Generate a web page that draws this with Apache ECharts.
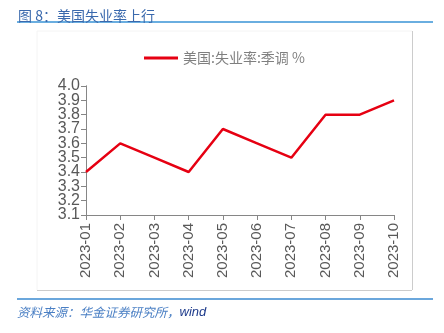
<!DOCTYPE html>
<html><head><meta charset="utf-8">
<script src="https://cdn.jsdelivr.net/npm/echarts@6/dist/echarts.min.js"></script>
<style>html,body{margin:0;padding:0;background:#fff}#c{width:444px;height:333px}</style>
</head><body><div id="c"></div>
<script>
const categories = ['2023-01','2023-02','2023-03','2023-04','2023-05','2023-06','2023-07','2023-08','2023-09','2023-10'];
const unemploymentRate = [3.4, 3.6, 3.5, 3.4, 3.7, 3.6, 3.5, 3.8, 3.8, 3.9];
const yMin = 3.1, yMax = 4.0, yStep = 0.1;
const seriesName = '美国:失业率:季调 %';
const titleText = '图 8：美国失业率上行';
const sourceCn = '资料来源：华金证券研究所，';
const sourceEn = 'wind';

const gridBox = {left:86, right:50, top:86, bottom:118, containLabel:false};
const labelStyle = {color:'#595959', margin:6, fontFamily:'Arial, "Liberation Sans"', fontSize:16,
  formatter:v=>v.toFixed(1)};
const axisLineStyle = {show:true, lineStyle:{color:'#868686', width:1}};
const tickStyle = {show:true, length:5, lineStyle:{color:'#868686'}};

const chart = echarts.init(document.getElementById('c'), null, {renderer:'canvas'});
chart.setOption({
  animation:false,
  backgroundColor:'#fff',
  title:{
    text:titleText, left:13, top:4,
    textStyle:{fontFamily:'"Noto Sans CJK SC", sans-serif', fontSize:14, fontWeight:'normal', color:'#3a69ad'}
  },
  legend:{
    data:[seriesName], top:46, left:139, itemWidth:34, itemHeight:3, itemGap:4,
    icon:'rect',
    textStyle:{fontFamily:'"Noto Sans CJK SC", sans-serif', fontSize:14, color:'#7f7f7f'}
  },
  grid:[Object.assign({}, gridBox), Object.assign({}, gridBox)],
  xAxis:[{
    type:'category', data:categories, boundaryGap:false, gridIndex:0,
    axisLine:{lineStyle:{color:'#868686', width:1}},
    axisTick:{alignWithLabel:true, length:5, lineStyle:{color:'#868686'}},
    axisLabel:{rotate:90, color:'#595959', fontFamily:'Arial, "Liberation Sans"', fontSize:15, margin:8}
  },{
    type:'category', data:categories, boundaryGap:false, gridIndex:1, show:false
  }],
  yAxis:[{
    type:'value', gridIndex:0, min:yMin, max:yMax, interval:yStep,
    axisLine:axisLineStyle, axisTick:tickStyle, splitLine:{show:false},
    axisLabel:Object.assign({showMinLabel:false, showMaxLabel:false}, labelStyle)
  },{
    type:'value', gridIndex:1, min:yMin, max:yMax, interval:+(yMax-yMin).toFixed(1),
    axisLine:axisLineStyle, axisTick:tickStyle, splitLine:{show:false},
    axisLabel:Object.assign({showMinLabel:true, showMaxLabel:true}, labelStyle)
  }],
  series:[{
    name:seriesName, type:'line', data:unemploymentRate, symbol:'none',
    xAxisIndex:0, yAxisIndex:0,
    lineStyle:{color:'#e60012', width:2.5}, itemStyle:{color:'#e60012'}
  }],
  graphic:[
    {type:'line', shape:{x1:17,y1:22,x2:433,y2:22}, style:{stroke:'#6aaee0', lineWidth:2}},
    {type:'line', shape:{x1:37,y1:31,x2:412,y2:31}, style:{stroke:'#f4f4f4', lineWidth:1}},
    {type:'line', shape:{x1:37,y1:31,x2:37,y2:290}, style:{stroke:'#f4f4f4', lineWidth:1}},
    {type:'line', shape:{x1:412.5,y1:31,x2:412.5,y2:290}, style:{stroke:'#cccccc', lineWidth:1}},
    {type:'line', shape:{x1:37,y1:290.5,x2:412,y2:290.5}, style:{stroke:'#cccccc', lineWidth:1}},
    {type:'line', shape:{x1:17,y1:299,x2:433,y2:299}, style:{stroke:'#3a8ad0', lineWidth:1.5}},
    {type:'text', left:17, top:306, style:{
      text:'{a|'+sourceCn+'}{b|'+sourceEn+'}',
      rich:{
        a:{fontFamily:'"Noto Sans CJK SC", sans-serif', fontSize:12.5, fontStyle:'italic', fill:'#4a7fc4'},
        b:{fontFamily:'Arial, "Liberation Sans"', fontSize:13, fontStyle:'italic', fill:'#1f3c8c'}
      }
    }}
  ]
});
</script></body></html>
